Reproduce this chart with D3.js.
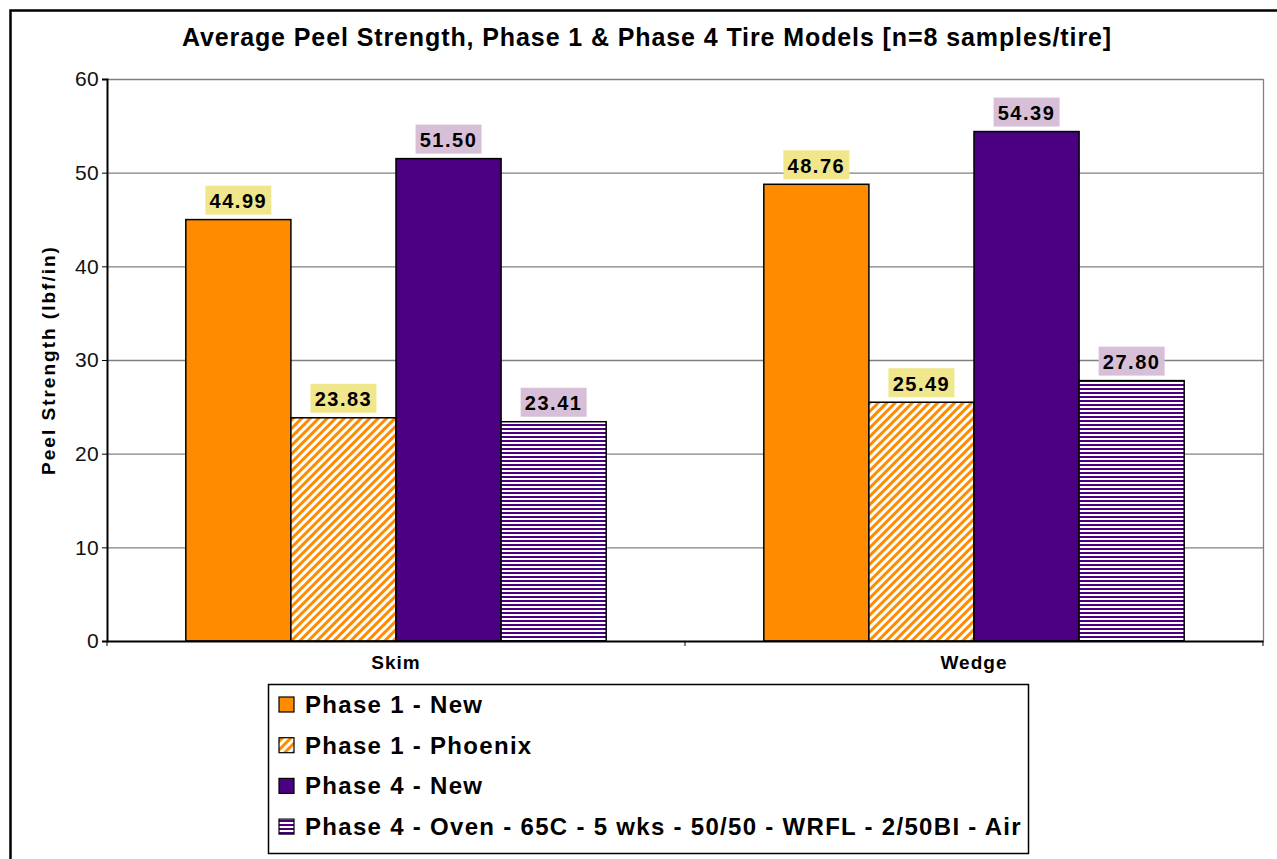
<!DOCTYPE html>
<html><head><meta charset="utf-8">
<script src="https://cdn.jsdelivr.net/npm/d3@7"></script>
<style>body{margin:0;background:#fff;}svg{display:block;font-family:Arial,"Liberation Sans",sans-serif;}</style>
</head><body>
<svg id="c" width="1277" height="859"></svg>
<script>
const categories = ["Skim", "Wedge"];
const seriesNames = ["Phase 1 - New", "Phase 1 - Phoenix", "Phase 4 - New", "Phase 4 - Oven - 65C - 5 wks - 50/50 - WRFL - 2/50BI - Air"];
const phase1New = [44.99, 48.76];
const phase1Phoenix = [23.83, 25.49];
const phase4New = [51.50, 54.39];
const phase4Oven = [23.41, 27.80];
const yTicks = [0, 10, 20, 30, 40, 50, 60];
const title = "Average Peel Strength, Phase 1 & Phase 4 Tire Models [n=8 samples/tire]";
const yLabel = "Peel Strength (lbf/in)";

const seriesValues = [phase1New, phase1Phoenix, phase4New, phase4Oven];
const fills = ["#FF8C00", "url(#diag)", "#4B0082", "url(#horiz)"];
const labelBg = ["#F0E68C", "#F0E68C", "#D8BFD8", "#D8BFD8"];
const FONT = "Arial, 'Liberation Sans', sans-serif";

const svg = d3.select("#c");
const defs = svg.append("defs");
const pd = defs.append("pattern").attr("id","diag").attr("patternUnits","userSpaceOnUse")
  .attr("width",6).attr("height",6).attr("patternTransform","rotate(45)");
pd.append("rect").attr("width",6).attr("height",6).attr("fill","#fff");
pd.append("rect").attr("width",3).attr("height",6).attr("fill","#FF8C00");
const ph = defs.append("pattern").attr("id","horiz").attr("patternUnits","userSpaceOnUse")
  .attr("width",4).attr("height",4);
ph.append("rect").attr("width",4).attr("height",4).attr("fill","#fff");
ph.append("rect").attr("width",4).attr("height",2).attr("fill","#4B0082");

// outer border
svg.append("rect").attr("x",10.5).attr("y",10.5).attr("width",1290).attr("height",870)
  .attr("fill","none").attr("stroke","#000").attr("stroke-width",2.5);

const L = 107, R = 1263, T = 79, B = 641;
const x0 = d3.scaleBand().domain(categories).range([L, R]).paddingInner(0).paddingOuter(0);
const x1 = d3.scaleBand().domain(d3.range(4)).range([0, x0.bandwidth()]).paddingOuter(0.75);
const y = d3.scaleLinear().domain([0, 60]).range([B, T]);

// gridlines
svg.append("g").selectAll("line").data(yTicks.filter(d=>d>0)).join("line")
  .attr("x1",L).attr("x2",R).attr("y1",d=>y(d)+0.5).attr("y2",d=>y(d)+0.5)
  .attr("stroke","#808080").attr("stroke-width",1.3);
// plot right border
svg.append("line").attr("x1",R+0.5).attr("x2",R+0.5).attr("y1",T).attr("y2",B)
  .attr("stroke","#808080").attr("stroke-width",1.3);

// bars
const groups = svg.append("g").selectAll("g").data(categories).join("g")
  .attr("transform", d => `translate(${x0(d)},0)`);
groups.each(function(cat, ci) {
  const g = d3.select(this);
  seriesValues.forEach((vals, si) => {
    g.append("rect")
      .attr("x", x1(si)).attr("width", x1.bandwidth())
      .attr("y", y(vals[ci])).attr("height", B - y(vals[ci]))
      .attr("fill", fills[si]).attr("stroke","#000").attr("stroke-width",1.5);
  });
});

// axes
const yAxis = d3.axisLeft(y).tickValues(yTicks).tickSize(5).tickPadding(3);
const ya = svg.append("g").attr("transform",`translate(${L},0)`).call(yAxis);
ya.select(".domain").attr("stroke","#000").attr("stroke-width",2);
ya.selectAll(".tick line").attr("stroke","#000");
ya.selectAll("text").attr("font-size",21).attr("letter-spacing",0.3).attr("fill","#111").attr("font-family",FONT);

const xa = svg.append("g").attr("transform",`translate(0,${B})`)
  .call(d3.axisBottom(x0).tickSize(0).tickPadding(15));
xa.select(".domain").attr("stroke","#000").attr("stroke-width",2);
xa.selectAll("text").attr("font-size",19).attr("letter-spacing",1).attr("font-weight","bold").attr("fill","#000")
  .attr("font-family",FONT);
// category separator ticks
svg.append("g").selectAll("line").data([L, x0("Wedge"), R]).join("line")
  .attr("x1",d=>d).attr("x2",d=>d).attr("y1",B).attr("y2",B+5).attr("stroke","#000");

// data labels
groups.each(function(cat, ci) {
  const g = d3.select(this);
  seriesValues.forEach((vals, si) => {
    const cx = x1(si) + x1.bandwidth()/2;
    const yy = y(vals[ci]);
    const lg = g.append("g");
    lg.append("rect").attr("x", cx-33).attr("y", yy-34).attr("width",66).attr("height",29)
      .attr("fill", labelBg[si]);
    lg.append("text").attr("x",cx).attr("y",yy-11.5).attr("text-anchor","middle")
      .attr("font-size",20).attr("letter-spacing",1.5).attr("font-weight","bold").attr("fill","#000")
      .text(vals[ci].toFixed(2));
  });
});

// title
svg.append("text").attr("x",647).attr("y",46).attr("text-anchor","middle")
  .attr("font-size",25).attr("letter-spacing",0.9).attr("font-weight","bold").text(title);
// y label
svg.append("text").attr("transform","translate(55,360) rotate(-90)").attr("text-anchor","middle")
  .attr("font-size",19).attr("letter-spacing",2).attr("font-weight","bold").text(yLabel);

// legend
const lg = svg.append("g");
lg.append("rect").attr("x",268.5).attr("y",684.5).attr("width",760).attr("height",169)
  .attr("fill","#fff").attr("stroke","#000").attr("stroke-width",1.5);
seriesNames.forEach((n, i) => {
  const yy = 713 + i*40.7;
  lg.append("rect").attr("x",279).attr("y",yy-16).attr("width",15).attr("height",15)
    .attr("fill",fills[i]).attr("stroke","#000").attr("stroke-width",1.2);
  lg.append("text").attr("x",305).attr("y",yy).attr("font-size",24).attr("letter-spacing",1.3)
    .attr("font-weight","bold").text(n);
});
</script>
</body></html>
